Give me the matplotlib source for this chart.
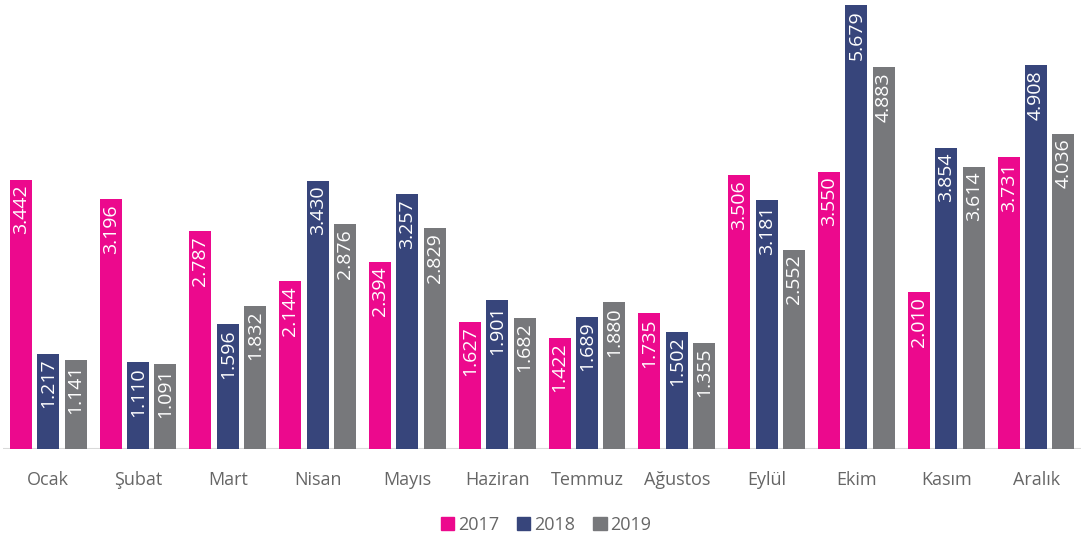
import matplotlib
matplotlib.use("Agg")
import matplotlib.pyplot as plt
import numpy as np
from matplotlib.patches import Patch

months = ["Ocak", "Şubat", "Mart", "Nisan", "Mayıs", "Haziran", "Temmuz",
          "Ağustos", "Eylül", "Ekim", "Kasım", "Aralık"]
series_names = ["2017", "2018", "2019"]
v2017 = [3.442, 3.196, 2.787, 2.144, 2.394, 1.627, 1.422, 1.735, 3.506, 3.550, 2.010, 3.731]
v2018 = [1.217, 1.110, 1.596, 3.430, 3.257, 1.901, 1.689, 1.502, 3.181, 5.679, 3.854, 4.908]
v2019 = [1.141, 1.091, 1.832, 2.876, 2.829, 1.682, 1.880, 1.355, 2.552, 4.883, 3.614, 4.036]
colors = ["#EC098D", "#37457B", "#77787B"]

plt.rcParams['font.family'] = ['Open Sans', 'DejaVu Sans']

fig = plt.figure(figsize=(10.81, 5.36), dpi=100)
ax = fig.add_axes([0.003, 1 - 449/536, 0.997, 449/536])

x = np.arange(len(months))
width = 0.245
offsets = [-0.305, 0.0, 0.305]
for vals, col, off in zip([v2017, v2018, v2019], colors, offsets):
    bars = ax.bar(x + off, vals, width=width, color=col, zorder=2)
    for b, v in zip(bars, vals):
        ax.annotate(f"{v:.3f}", (b.get_x() + b.get_width()/2, b.get_height()),
                    xytext=(0, -3.5), textcoords="offset points",
                    rotation=90, ha="center", va="top", color="white",
                    fontsize=14, zorder=3)

ax.set_xlim(-0.5, len(months) - 0.5)
ax.set_ylim(0, 5.745)
ax.axhline(0, color="#D9D9D9", lw=1.5, zorder=1)
ax.set_xticks(x)
ax.set_xticklabels(months, fontsize=13, color="#666666")
ax.tick_params(axis="x", length=0, pad=16)
ax.set_yticks([])
for s in ax.spines.values():
    s.set_visible(False)

handles = [Patch(color=c) for c in colors]
fig.legend(handles, series_names, loc="center", bbox_to_anchor=(0.505, 1 - 525/536),
           ncol=3, frameon=False, prop={"size": 13},
           labelcolor="#666666",
           handlelength=0.75, handleheight=0.75, handletextpad=0.2, columnspacing=1.0)

fig.savefig("out.png", dpi=100)
